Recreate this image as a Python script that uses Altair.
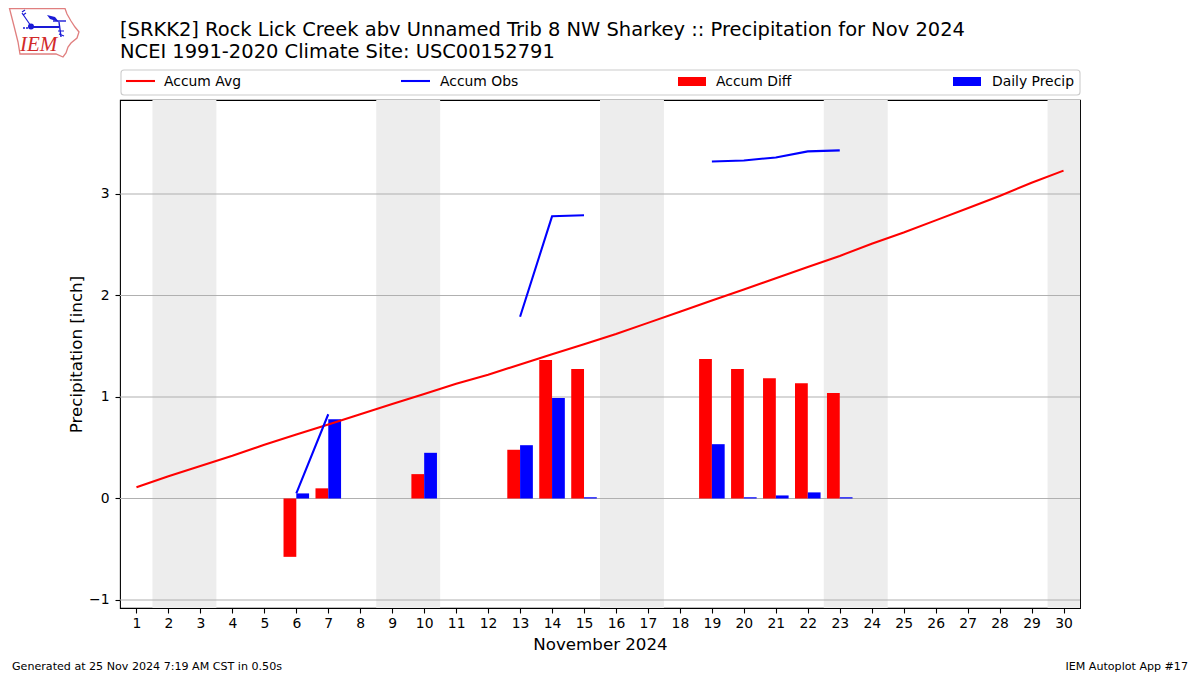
import urllib.parse
import altair as alt
import pandas as pd

days = list(range(1, 31))
accum_avg = [0.11, 0.22, 0.32, 0.42, 0.53, 0.63, 0.73, 0.83, 0.93, 1.03,
             1.13, 1.22, 1.32, 1.42, 1.52, 1.62, 1.73, 1.84, 1.95, 2.06,
             2.17, 2.28, 2.39, 2.51, 2.62, 2.74, 2.86, 2.98, 3.11, 3.23]
accum_obs = [None, None, None, None, None, 0.05, 0.83, None, None, None,
             None, None, 1.79, 2.78, 2.79, None, None, None, 3.32, 3.33,
             3.36, 3.42, 3.43, None, None, None, None, None, None, None]
bar_days = [6, 7, 10, 13, 14, 15, 19, 20, 21, 22, 23]
accum_diff = [-0.575, 0.10, 0.24, 0.48, 1.365, 1.275, 1.375, 1.275, 1.185, 1.135, 1.04]
daily_precip = [0.05, 0.78, 0.45, 0.525, 0.99, 0.012, 0.535, 0.012, 0.03, 0.06, 0.012]
weekend_start = [1.5, 8.5, 15.5, 22.5, 29.5]
weekend_end = [3.5, 10.5, 17.5, 24.5, 31.5]
y_ticks = [-1, 0, 1, 2, 3]
title_line1 = "[SRKK2] Rock Lick Creek abv Unnamed Trib 8 NW Sharkey :: Precipitation for Nov 2024"
title_line2 = "NCEI 1991-2020 Climate Site: USC00152791"
x_title = "November 2024"
y_title = "Precipitation [inch]"
footer_left = "Generated at 25 Nov 2024 7:19 AM CST in 0.50s"
footer_right = "IEM Autoplot App #17"

FONT = "DejaVu Sans"
BAR = 0.4
x_dom = [0.485, 30.515]
y_dom = [-1.079, 3.926]
x_scale = alt.Scale(domain=x_dom, nice=False, zero=False)
y_scale = alt.Scale(domain=y_dom, nice=False, zero=False)

line_df = pd.DataFrame({"day": days, "avg": accum_avg, "obs": accum_obs})
bar_df = pd.DataFrame({"day": bar_days, "diff": accum_diff, "precip": daily_precip})
bar_df["d0"] = bar_df["day"] - BAR
bar_df["d1"] = bar_df["day"] + BAR
bar_df["zero"] = 0
band_df = pd.DataFrame({"a": weekend_start, "b": weekend_end})
grid_df = pd.DataFrame({"v": y_ticks})
one = pd.DataFrame({"k": [0]})

x_axis = alt.Axis(values=days, format="d", title=x_title, grid=False, domain=False,
                  labelOverlap=False, labelFlush=False, labelSeparation=0,
                  tickColor="black", tickSize=5, tickWidth=1.1,
                  labelColor="black", labelFont=FONT, labelFontSize=13.9, labelPadding=3,
                  titleFont=FONT, titleFontSize=16.67, titleFontWeight="normal", titleColor="black", titlePadding=7)
y_axis = alt.Axis(values=y_ticks, title=y_title, grid=False, domain=False,
                  labelExpr="datum.value < 0 ? '\u2212' + abs(datum.value) : datum.value",
                  labelOverlap=False, labelFlush=False, tickColor="black", tickSize=5, tickWidth=1.1,
                  labelColor="black", labelFont=FONT, labelFontSize=13.9, labelPadding=6,
                  titleFont=FONT, titleFontSize=16.67, titleFontWeight="normal", titleColor="black", titlePadding=3)

bands = alt.Chart(band_df).mark_rect(color="#ededed", clip=True).encode(
    x=alt.X("a:Q", scale=x_scale, axis=x_axis), x2="b:Q")
grid = alt.Chart(grid_df).mark_rule(color="#b0b0b0", strokeWidth=1.1).encode(
    y=alt.Y("v:Q", scale=y_scale, axis=y_axis))
diff_bars = alt.Chart(bar_df).mark_rect(color="#ff0000").encode(
    x=alt.X("d0:Q", scale=x_scale, axis=x_axis), x2="day:Q",
    y=alt.Y("zero:Q", scale=y_scale, axis=y_axis), y2="diff:Q")
precip_bars = alt.Chart(bar_df).mark_rect(color="#0000ff").encode(
    x=alt.X("day:Q", scale=x_scale, axis=x_axis), x2="d1:Q",
    y=alt.Y("zero:Q", scale=y_scale, axis=y_axis), y2="precip:Q")
avg_line = alt.Chart(line_df).mark_line(color="#ff0000", strokeWidth=2.08).encode(
    x=alt.X("day:Q", scale=x_scale, axis=x_axis), y=alt.Y("avg:Q", scale=y_scale, axis=y_axis))
obs_line = alt.Chart(line_df).mark_line(color="#0000ff", strokeWidth=2.08).encode(
    x=alt.X("day:Q", scale=x_scale, axis=x_axis), y=alt.Y("obs:Q", scale=y_scale, axis=y_axis))

PX, PY = 120, 100  # page position of the plot origin


def label(text, px, py, size=13.9, align="left"):
    return alt.Chart(one).mark_text(text=text, font=FONT, fontSize=size, align=align,
                                    baseline="alphabetic", color="black").encode(
        x=alt.value(px - PX), y=alt.value(py - PY))


def swatch_line(color, x0, x1, y):
    return alt.Chart(one).mark_rule(color=color, strokeWidth=2.08).encode(
        x=alt.value(x0 - PX), x2=alt.value(x1 - PX), y=alt.value(y - PY))


def swatch_box(color, x0, x1, y0, y1):
    return alt.Chart(one).mark_rect(color=color).encode(
        x=alt.value(x0 - PX), x2=alt.value(x1 - PX), y=alt.value(y0 - PY), y2=alt.value(y1 - PY))


legend_box = alt.Chart(one).mark_rect(fill="white", stroke="#cccccc", strokeWidth=1.1, cornerRadius=3).encode(
    x=alt.value(1), x2=alt.value(960), y=alt.value(70 - PY), y2=alt.value(95 - PY))
legend = [legend_box,
          swatch_line("#ff0000", 126, 155, 81), label("Accum Avg", 164, 86),
          swatch_line("#0000ff", 401, 430, 81), label("Accum Obs", 440, 86),
          swatch_box("#ff0000", 678, 706, 77, 86), label("Accum Diff", 716, 86),
          swatch_box("#0000ff", 953, 981, 77, 86), label("Daily Precip", 992, 86)]
footer = [label(footer_left, 12, 670, size=11.1),
          label(footer_right, 1188, 670, size=11.1, align="right")]
titles = [label(title_line1, 120, 36, size=19.47), label(title_line2, 120, 58, size=19.47)]

logo_svg = (
    "<svg xmlns='http://www.w3.org/2000/svg' width='72' height='52' viewBox='8 7 72 52'>"
    "<path d='M9.5 8.5 L65 8.5 L67 14 L71 21 L75 27 L79 32 L77 38 L71 43 L68 47 L66 53 L63 57 "
    "L56 54 L20 54 L18 42 L14 26 Z' fill='white' stroke='#e07f7f' stroke-width='1.3'/>"
    "<g stroke='#1a1ad6' fill='none'>"
    "<path d='M31 27 L59 27' stroke-width='2'/>"
    "<path d='M22 13 L31 26' stroke-width='1.2'/>"
    "<path d='M22 12 L25 10 M23 15 L26 13' stroke-width='1.2'/>"
    "<path d='M53 21 L66 21' stroke-width='1.4'/>"
    "<path d='M59 22 L61 37' stroke-width='1.4'/>"
    "<path d='M58 31 L64 31 M59 34 L64 36' stroke-width='1.2'/>"
    "</g>"
    "<circle cx='31' cy='26.5' r='3' fill='#1a1ad6'/>"
    "<path d='M47 15 L55 17 L59 22 L50 19 Z' fill='#1a1ad6'/>"
    "<circle cx='24' cy='28' r='1' fill='#1a1ad6'/><circle cx='27' cy='28' r='1' fill='#1a1ad6'/>"
    "<text x='20' y='51' font-family='Liberation Serif' font-style='italic' font-size='21' "
    "fill='#d22a2a'>IEM</text></svg>"
)
logo_url = "data:image/svg+xml," + urllib.parse.quote(logo_svg)
logo = alt.Chart(one).mark_image(url=logo_url, width=72, height=52, align="left", baseline="top").encode(
    x=alt.value(8 - PX), y=alt.value(7 - PY))

chart = alt.layer(
    bands, grid, diff_bars, precip_bars, avg_line, obs_line,
    *legend, *titles, *footer, logo,
).properties(
    width=960, height=508,
    autosize=alt.AutoSizeParams(type="none"),
    padding={"left": 112, "top": 92, "right": 110, "bottom": 66},
).configure_view(stroke="black", strokeWidth=1.1)

chart.save("out.html", embed_options={"renderer": "svg", "actions": False})
